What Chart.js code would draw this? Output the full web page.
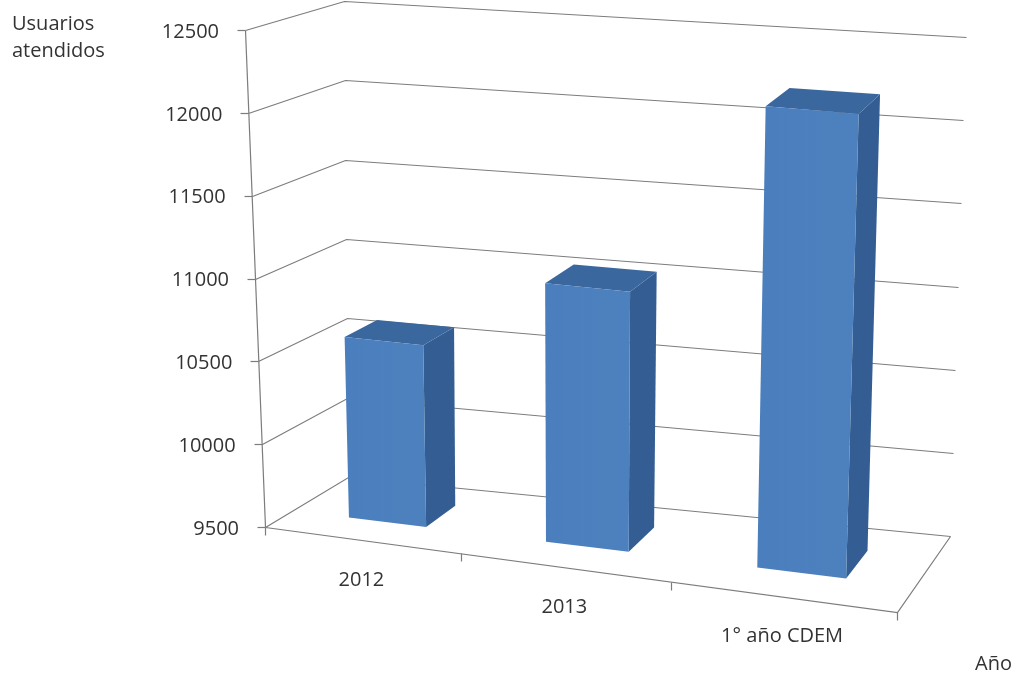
<!DOCTYPE html>
<html><head><meta charset="utf-8">
<script src="https://cdn.jsdelivr.net/npm/chart.js@4/dist/chart.umd.min.js"></script>
<style>html,body{margin:0;padding:0;background:#fff;overflow:hidden}</style>
</head><body>
<canvas id="c" width="1021" height="675"></canvas>
<script>
const categories = ['2012', '2013', '1° año CDEM'];
const usuarios = [10600, 11050, 12220];
const yTicks = [9500, 10000, 10500, 11000, 11500, 12000, 12500];
const yTitle = ['Usuarios', 'atendidos'];
const xTitle = 'Año';

// 3D view: screen corners of the plot box (front/back, bottom/top, left/right)
const F00 = [265, 527], F01 = [245, 30], F10 = [897, 612], F11 = [915, 89];
const B00 = [348, 477], B01 = [344, 1], B10 = [950, 536], B11 = [966, 37];
const K = 0.9;            // horizontal foreshortening
const W0 = 0.33, W1 = 0.71; // bar depth range
const FONT = '20px "Open Sans", "Segoe UI", sans-serif';

function lerp(a, b, t) { return [a[0] + (b[0] - a[0]) * t, a[1] + (b[1] - a[1]) * t]; }
function P(u, v, w) {
  u = K * u / (1 + (K - 1) * u);
  const f = lerp(lerp(F00, F10, u), lerp(F01, F11, u), v);
  const b = lerp(lerp(B00, B10, u), lerp(B01, B11, u), v);
  return lerp(f, b, w);
}
function poly(ctx, pts, fill) {
  ctx.beginPath();
  ctx.moveTo(pts[0][0], pts[0][1]);
  for (let i = 1; i < pts.length; i++) ctx.lineTo(pts[i][0], pts[i][1]);
  ctx.closePath();
  ctx.fillStyle = fill; ctx.fill();
}
function line(ctx, pts) {
  ctx.beginPath();
  ctx.moveTo(Math.round(pts[0][0]) + 0.5, Math.round(pts[0][1]) + 0.5);
  for (let i = 1; i < pts.length; i++) ctx.lineTo(Math.round(pts[i][0]) + 0.5, Math.round(pts[i][1]) + 0.5);
  ctx.stroke();
}

const plugin3d = {
  id: 'plugin3d',
  beforeDatasetsDraw(chart) {
    const ctx = chart.ctx, a = chart.chartArea, ys = chart.scales.y;
    const V = val => (a.bottom - ys.getPixelForValue(val)) / (a.bottom - a.top);
    ctx.save();
    ctx.strokeStyle = '#7c7c7c'; ctx.lineWidth = 1.2;
    ys.ticks.forEach(t => {
      const v = V(t.value);
      line(ctx, [P(0, v, 0), P(0, v, 1), P(1, v, 1)]);
      const p = P(0, v, 0);
      line(ctx, [[p[0] - 8, p[1]], p]);
    });
    line(ctx, [P(0, 0, 0), P(0, 1, 0)]);
    line(ctx, [P(0, 0, 0), P(1, 0, 0), P(1, 0, 1)]);
    const n = categories.length;
    for (let i = 0; i <= n; i++) {
      const p = P(i / n, 0, 0);
      line(ctx, [p, [p[0], p[1] + 8]]);
    }
    ctx.restore();
  },
  afterDatasetsDraw(chart) {
    const ctx = chart.ctx, a = chart.chartArea, ys = chart.scales.y;
    const U = px => (px - a.left) / (a.right - a.left);
    const Vp = py => (a.bottom - py) / (a.bottom - a.top);
    const vb = Vp(ys.getPixelForValue(ys.min));
    const meta = chart.getDatasetMeta(0);
    ctx.save();
    meta.data.forEach(el => {
      const u0 = U(el.x - el.width / 2), u1 = U(el.x + el.width / 2);
      const vt = Vp(el.y);
      poly(ctx, [P(u1, vb, W0), P(u1, vt, W0), P(u1, vt, W1), P(u1, vb, W1)], '#345e93');
      poly(ctx, [P(u0, vt, W0), P(u1, vt, W0), P(u1, vt, W1), P(u0, vt, W1)], '#3b679f');
      const g = ctx.createLinearGradient(P(u0, vt, W0)[0], 0, P(u1, vt, W0)[0], 0);
      g.addColorStop(0, '#4a7ebd'); g.addColorStop(1, '#4d81be');
      poly(ctx, [P(u0, vb, W0), P(u1, vb, W0), P(u1, vt, W0), P(u0, vt, W0)], g);
    });
    ctx.restore();
  },
  afterDraw(chart) {
    const ctx = chart.ctx, a = chart.chartArea, ys = chart.scales.y, xs = chart.scales.x;
    const V = val => (a.bottom - ys.getPixelForValue(val)) / (a.bottom - a.top);
    const U = px => (px - a.left) / (a.right - a.left);
    ctx.save();
    ctx.fillStyle = '#333333';
    ctx.font = FONT;
    ctx.textBaseline = 'middle';
    ctx.textAlign = 'right';
    ys.ticks.forEach(t => {
      const p = P(0, V(t.value), 0);
      ctx.fillText(String(t.value), p[0] - 26, p[1] + 2);
    });
    ctx.textAlign = 'center';
    categories.forEach((c, i) => {
      const p = P(U(xs.getPixelForValue(i)), 0, 0);
      ctx.fillText(c, p[0], p[1] + 40);
    });
    ctx.textAlign = 'left';
    ctx.fillText(yTitle[0], 12, 24);
    ctx.fillText(yTitle[1], 12, 51);
    ctx.fillText(xTitle, 975, 664);
    ctx.restore();
  }
};

new Chart(document.getElementById('c'), {
  type: 'bar',
  data: {
    labels: categories,
    datasets: [{
      label: 'Usuarios atendidos',
      data: usuarios,
      backgroundColor: 'rgba(0,0,0,0)',
      borderWidth: 0,
      barPercentage: 0.4,
      categoryPercentage: 1.0
    }]
  },
  options: {
    responsive: false,
    devicePixelRatio: 1,
    animation: false,
    layout: { padding: 0 },
    plugins: { legend: { display: false }, tooltip: { enabled: false } },
    scales: {
      x: { display: false, offset: true },
      y: {
        display: false,
        min: yTicks[0], max: yTicks[yTicks.length - 1],
        ticks: { stepSize: yTicks[1] - yTicks[0] }
      }
    }
  },
  plugins: [plugin3d]
});
</script>
</body></html>
